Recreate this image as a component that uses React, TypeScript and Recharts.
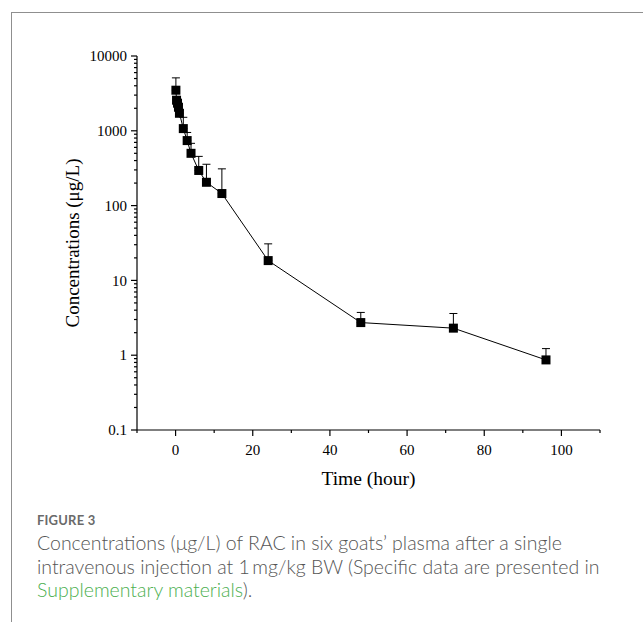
import React from 'react';
import { LineChart, Line, XAxis, YAxis, ErrorBar, Label } from 'recharts';

// Sampling times (hour)
const times = [0.083, 0.25, 0.5, 0.75, 1, 2, 3, 4, 6, 8, 12, 24, 48, 72, 96];
// Mean plasma concentrations (µg/L)
const means = [3490, 2565, 2340, 2065, 1715, 1070, 740, 500, 295, 205, 145, 18.4, 2.73, 2.3, 0.865];
// Standard deviations (upper error bars only)
const sds = [1610, 300, 260, 220, 190, 445, 210, 180, 160, 152, 165, 12.4, 1.0, 1.31, 0.36];

const xTicks = [-10, 0, 10, 20, 30, 40, 50, 60, 70, 80, 90, 100, 110];
const xLabelTicks = [0, 20, 40, 60, 80, 100];
const yMajorTicks = [0.1, 1, 10, 100, 1000, 10000];
const yMinorTicks = [
  0.2, 0.3, 0.4, 0.5, 0.6, 0.7, 0.8, 0.9,
  2, 3, 4, 5, 6, 7, 8, 9,
  20, 30, 40, 50, 60, 70, 80, 90,
  200, 300, 400, 500, 600, 700, 800, 900,
  2000, 3000, 4000, 5000, 6000, 7000, 8000, 9000,
];

const captionLines = [
  'Concentrations (μg/L) of RAC in six goats’ plasma after a single',
  'intravenous injection at 1\u2009mg/kg BW (Specific data are presented in',
];
const captionLink = 'Supplementary materials';

const data = times.map((t, i) => ({ t, c: means[i], err: [0, sds[i]] }));

const SERIF = '"Liberation Serif", "Times New Roman", serif';

const XTick = (props: any) => {
  const { x, y, payload } = props;
  const v = payload.value;
  const major = xLabelTicks.includes(v);
  return (
    <g>
      <line x1={x} y1={y} x2={x} y2={y + (major ? 6 : 3)} stroke="#000" strokeWidth={1.2} />
      {major && (
        <text x={x} y={y + 25} textAnchor="middle" fontFamily={SERIF} fontSize={15} fill="#000">
          {String(v)}
        </text>
      )}
    </g>
  );
};

const YTick = (props: any) => {
  const { x, y, payload } = props;
  const v = payload.value;
  const major = yMajorTicks.includes(v);
  return (
    <g>
      <line x1={x} y1={y} x2={x - (major ? 6 : 3)} y2={y} stroke="#000" strokeWidth={1.2} />
      {major && (
        <text x={x - 10} y={y} dy="0.35em" textAnchor="end" fontFamily={SERIF} fontSize={15} fill="#000">
          {String(v)}
        </text>
      )}
    </g>
  );
};

const SquareDot = (props: any) => {
  const { cx, cy, index } = props;
  if (cx == null || cy == null) return null;
  return <rect key={`d${index}`} x={cx - 4.5} y={cy - 4.5} width={9} height={9} fill="#000" />;
};

const YTitle = (props: any) => {
  const vb = props.viewBox || {};
  const cx = vb.x - 5;
  const cy = vb.y + vb.height / 2;
  return (
    <text
      x={cx}
      y={cy}
      transform={`rotate(-90 ${cx} ${cy})`}
      textAnchor="middle"
      dominantBaseline="central"
      fontFamily={SERIF}
      fontSize={19}
      fill="#000"
    >
      Concentrations (μg/L)
    </text>
  );
};

const XTitle = (props: any) => {
  const vb = props.viewBox || {};
  const cx = vb.x + vb.width / 2;
  const cy = vb.y + 55;
  return (
    <text x={cx} y={cy} textAnchor="middle" fontFamily={SERIF} fontSize={19.5} fill="#000">
      Time (hour)
    </text>
  );
};

export default function App() {
  return (
    <div style={{ position: 'absolute', left: 0, top: 0, width: 643, height: 622, background: '#fff', overflow: 'hidden' }}>
      <div
        style={{
          position: 'absolute',
          left: 11,
          top: 12,
          width: 640,
          height: 620,
          borderLeft: '1px solid #8f8f8f',
          borderTop: '1px solid #8f8f8f',
        }}
      />
      <div style={{ position: 'absolute', left: 0, top: 0 }}>
        <LineChart width={643} height={622} data={data} margin={{ top: 56, right: 43, left: 77, bottom: 162 }}>
          <XAxis
            dataKey="t"
            type="number"
            domain={[-10, 110]}
            ticks={xTicks}
            interval={0}
            tickSize={0}
            tickMargin={0}
            tick={<XTick />}
            axisLine={{ stroke: '#000', strokeWidth: 1.2 }}
            tickLine={false}
            height={30}
            allowDataOverflow
          >
            <Label content={<XTitle />} />
          </XAxis>
          <YAxis
            type="number"
            scale="log"
            domain={[0.1, 10000]}
            ticks={[...yMajorTicks, ...yMinorTicks]}
            interval={0}
            tickSize={0}
            tickMargin={0}
            tick={<YTick />}
            axisLine={{ stroke: '#000', strokeWidth: 1.2 }}
            tickLine={false}
            width={60}
            allowDataOverflow
          >
            <Label content={<YTitle />} />
          </YAxis>
          <Line
            dataKey="c"
            type="linear"
            stroke="#000"
            strokeWidth={1}
            dot={<SquareDot />}
            activeDot={false}
            isAnimationActive={false}
          >
            <ErrorBar dataKey="err" direction="y" width={4} stroke="#000" strokeWidth={1} />
          </Line>
        </LineChart>
      </div>
      <div
        style={{
          position: 'absolute',
          left: 37,
          top: 510,
          width: 606,
          fontFamily: 'Lato, "Open Sans", sans-serif',
          color: '#555555',
          whiteSpace: 'nowrap',
        }}
      >
        <div style={{ fontSize: 13, fontWeight: 700, color: '#6a6a6a', letterSpacing: 0.2, lineHeight: '20px' }}>FIGURE 3</div>
        <div style={{ fontSize: 19.5, fontWeight: 300, lineHeight: '23.5px', marginTop: 1 }}>
          <div>{captionLines[0]}</div>
          <div>{captionLines[1]}</div>
          <div>
            <span style={{ color: '#4caf50' }}>{captionLink}</span>).
          </div>
        </div>
      </div>
    </div>
  );
}
